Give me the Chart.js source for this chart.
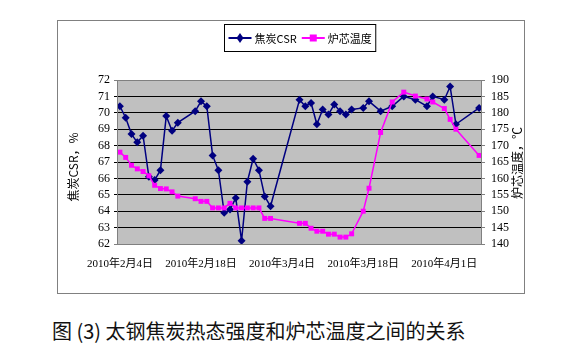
<!DOCTYPE html>
<html>
<head>
<meta charset="utf-8">
<script src="https://cdn.jsdelivr.net/npm/chart.js@4/dist/chart.umd.min.js"></script>
<style>
  html, body { margin: 0; padding: 0; background: #fff; width: 566px; height: 358px; overflow: hidden; }
  #frame { position: absolute; left: 57px; top: 20px; width: 466px; height: 272px; border: 1px solid #808080; }
  #c { display: block; }
  #caption { position: absolute; left: 52px; top: 318px; font-family: "Noto Sans CJK SC", sans-serif; font-size: 20px; color: #111; white-space: nowrap; line-height: 26px; }
</style>
</head>
<body>
<div id="frame"><canvas id="c" width="466" height="272"></canvas></div>
<div id="caption">图 (3) 太钢焦炭热态强度和炉芯温度之间的关系</div>
<script>
// ---- data ----
const dates = [
  '2010-02-04','2010-02-05','2010-02-06','2010-02-07','2010-02-08','2010-02-09','2010-02-10','2010-02-11',
  '2010-02-12','2010-02-13','2010-02-14','2010-02-17','2010-02-18','2010-02-19','2010-02-20','2010-02-21',
  '2010-02-22','2010-02-23','2010-02-24','2010-02-25','2010-02-26','2010-02-27','2010-02-28','2010-03-01',
  '2010-03-02','2010-03-07','2010-03-08','2010-03-09','2010-03-10','2010-03-11','2010-03-12','2010-03-13',
  '2010-03-14','2010-03-15','2010-03-16','2010-03-18','2010-03-19','2010-03-21','2010-03-23','2010-03-25',
  '2010-03-27','2010-03-29','2010-03-30','2010-04-01','2010-04-02','2010-04-03','2010-04-07'
];
const csr = [
  70.4, 69.7, 68.7, 68.2, 68.6, 66.1, 65.9, 66.5,
  69.8, 68.9, 69.4, 70.1, 70.7, 70.4, 67.4, 66.5,
  63.9, 64.1, 64.8, 62.2, 65.8, 67.2, 66.5, 64.9,
  64.3, 70.8, 70.4, 70.6, 69.3, 70.2, 69.9, 70.5,
  70.1, 69.9, 70.2, 70.3, 70.7, 70.1, 70.4, 71.0,
  70.8, 70.4, 71.0, 70.8, 71.6, 69.3, 70.3
];
const coreTemp = [
  168.0, 166.4, 164.0, 162.9, 162.1, 160.8, 157.9, 156.9,
  156.8, 155.9, 154.6, 153.8, 153.0, 153.0, 151.0, 151.0,
  151.0, 152.4, 151.0, 151.0, 151.0, 151.0, 151.0, 147.8,
  147.8, 146.3, 146.3, 144.8, 143.9, 143.9, 143.0, 143.0,
  142.1, 142.1, 143.1, 150.0, 157.0, 174.0, 183.3, 186.3,
  185.1, 184.2, 183.3, 181.3, 178.0, 175.0, 167.0
];
const tickDates = ['2010-02-04','2010-02-18','2010-03-04','2010-03-18','2010-04-01'];
const tickLabels = ['2010年2月4日','2010年2月18日','2010年3月4日','2010年3月18日','2010年4月1日'];
const axisStart = '2010-02-04';
const axisEnd = '2010-04-07';
const seriesNames = ['焦炭CSR', '炉芯温度'];
const leftTitle = '焦炭CSR，%';
const rightTitle = '炉芯温度，℃';

// ---- helpers ----
function dayOf(s) {
  const p = s.split('-').map(Number);
  const a = axisStart.split('-').map(Number);
  return Math.round((Date.UTC(p[0], p[1] - 1, p[2]) - Date.UTC(a[0], a[1] - 1, a[2])) / 86400000);
}
const xs = dates.map(dayOf);
const tickDays = tickDates.map(dayOf);
const lastDay = dayOf(axisEnd);

const BLUE = '#000080', PINK = '#ff00ff';
const numFont = { family: '"Liberation Serif", "Noto Sans CJK SC", serif', size: 12 };

const bgPlugin = {
  id: 'bg',
  beforeDraw(chart) {
    const { ctx, chartArea: a } = chart;
    ctx.save();
    ctx.fillStyle = '#c0c0c0';
    ctx.fillRect(a.left, a.top, a.right - a.left, a.bottom - a.top);
    ctx.restore();
  },
  afterDraw(chart) {
    const { ctx, chartArea: a } = chart;
    ctx.save();
    // plot border
    ctx.strokeStyle = '#808080';
    ctx.lineWidth = 1;
    ctx.strokeRect(Math.round(a.left) + 0.5, Math.round(a.top) + 0.5, Math.round(a.right - a.left) - 1, Math.round(a.bottom - a.top));
    // axis titles (both read bottom-to-top)
    ctx.fillStyle = '#000';
    ctx.font = '12px "Noto Sans CJK SC", sans-serif';
    ctx.textAlign = 'center';
    ctx.textBaseline = 'middle';
    ctx.save();
    ctx.translate(15, 146);
    ctx.rotate(-Math.PI / 2);
    ctx.fillText(leftTitle, 0, 0);
    ctx.restore();
    ctx.save();
    ctx.translate(459, 142);
    ctx.rotate(-Math.PI / 2);
    ctx.fillText(rightTitle, 0, 0);
    ctx.restore();
    // legend
    ctx.font = '11px "Noto Sans CJK SC", sans-serif';
    ctx.textAlign = 'left';
    const w1 = ctx.measureText(seriesNames[0]).width;
    const w2 = ctx.measureText(seriesNames[1]).width;
    const lineLen = 23;
    const boxW = 4 + lineLen + 3 + w1 + 5 + lineLen + 3 + w2 + 4;
    const cx = 241.5;
    const bx = Math.round(cx - boxW / 2) + 0.5, by = 3.5, bh = 27;
    ctx.fillStyle = '#fff';
    ctx.fillRect(bx, by, boxW, bh);
    ctx.strokeStyle = '#000';
    ctx.lineWidth = 1;
    ctx.strokeRect(bx, by, boxW, bh);
    const ly = by + bh / 2;
    let x = bx + 4;
    // item 1
    ctx.strokeStyle = BLUE; ctx.lineWidth = 2;
    ctx.beginPath(); ctx.moveTo(x, ly); ctx.lineTo(x + lineLen, ly); ctx.stroke();
    ctx.fillStyle = BLUE;
    ctx.beginPath();
    const mx = x + lineLen / 2;
    ctx.moveTo(mx, ly - 5); ctx.lineTo(mx + 3.5, ly); ctx.lineTo(mx, ly + 5); ctx.lineTo(mx - 3.5, ly); ctx.closePath(); ctx.fill();
    x += lineLen + 3;
    ctx.fillStyle = '#000';
    ctx.fillText(seriesNames[0], x, ly + 1);
    x += w1 + 5;
    // item 2
    ctx.strokeStyle = PINK; ctx.lineWidth = 2;
    ctx.beginPath(); ctx.moveTo(x, ly); ctx.lineTo(x + lineLen, ly); ctx.stroke();
    ctx.fillStyle = PINK;
    ctx.fillRect(x + lineLen / 2 - 3.5, ly - 3.5, 7, 7);
    x += lineLen + 3;
    ctx.fillStyle = '#000';
    ctx.fillText(seriesNames[1], x, ly + 1);
    ctx.restore();
  }
};

new Chart(document.getElementById('c'), {
  type: 'line',
  data: {
    datasets: [
      {
        label: seriesNames[0],
        data: xs.map((d, i) => ({ x: d, y: csr[i] })),
        yAxisID: 'y',
        borderColor: BLUE,
        backgroundColor: BLUE,
        borderWidth: 1.5,
        pointStyle: 'rectRot',
        pointRadius: 4,
        pointBorderWidth: 0,
        tension: 0,
        order: 2
      },
      {
        label: seriesNames[1],
        data: xs.map((d, i) => ({ x: d, y: coreTemp[i] })),
        yAxisID: 'y1',
        borderColor: PINK,
        backgroundColor: PINK,
        borderWidth: 1.5,
        pointStyle: 'rect',
        pointRadius: 3.5,
        pointBorderWidth: 0,
        tension: 0,
        order: 1
      }
    ]
  },
  options: {
    responsive: false,
    animation: false,
    devicePixelRatio: 1,
    layout: { padding: { top: 59, left: 0, right: 0, bottom: 0 } },
    plugins: { legend: { display: false }, tooltip: { enabled: false } },
    scales: {
      x: {
        type: 'linear',
        min: -0.5,
        max: lastDay + 0.5,
        afterBuildTicks(scale) { scale.ticks = tickDays.map(v => ({ value: v })); },
        afterFit(scale) { scale.height = 49; },
        grid: { display: false, drawTicks: false },
        border: { display: false },
        ticks: {
          autoSkip: false,
          maxRotation: 0,
          padding: 14,
          color: '#000',
          font: { family: '"Liberation Serif", "Noto Sans CJK SC", serif', size: 11 },
          callback(v) { const i = tickDays.indexOf(v); return i >= 0 ? tickLabels[i] : ''; }
        }
      },
      y: {
        position: 'left',
        min: 62, max: 72,
        afterFit(scale) { scale.width = 59; },
        grid: {
          color: (c) => (c.tick && (c.tick.value === 72 || c.tick.value === 62)) ? '#808080' : '#000',
          lineWidth: 1,
          drawTicks: true,
          tickLength: 3
        },
        border: { display: false },
        ticks: { stepSize: 1, autoSkip: false, padding: 4, color: '#000', font: numFont }
      },
      y1: {
        position: 'right',
        min: 140, max: 190,
        afterFit(scale) { scale.width = 42; },
        grid: { drawOnChartArea: false, drawTicks: true, tickLength: 3, color: '#808080' },
        border: { display: false },
        ticks: { stepSize: 5, autoSkip: false, padding: 6, color: '#000', font: numFont }
      }
    }
  },
  plugins: [bgPlugin]
});
</script>
</body>
</html>
